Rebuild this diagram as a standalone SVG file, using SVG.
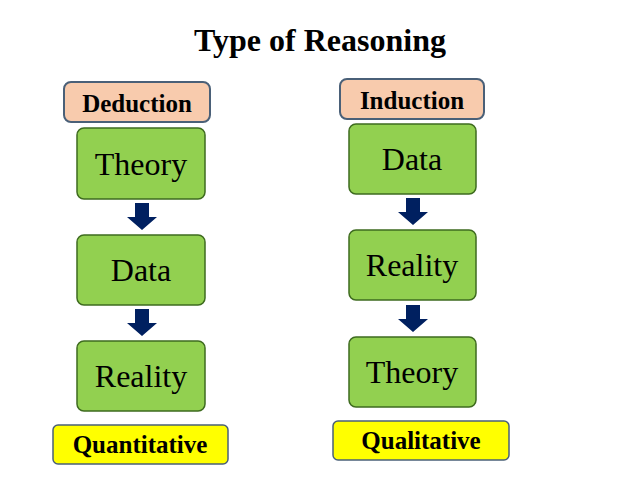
<svg xmlns="http://www.w3.org/2000/svg" width="638" height="478" viewBox="0 0 638 478">
<style>
.t{font-family:"Liberation Serif",serif;fill:#000;text-anchor:middle}
.g{fill:#92d050;stroke:#3e6b1f;stroke-width:1.5}
.o{fill:#f8cbad;stroke:#4a6078;stroke-width:2}
.y{fill:#ffff00;stroke:#4a6078;stroke-width:1.5}
.a{fill:#002060}
</style>
<rect width="638" height="478" fill="#fff"/>
<text class="t" x="320" y="51" font-size="32" font-weight="bold">Type of Reasoning</text>
<g id="deduction"><rect class="o" x="64" y="82" width="146" height="40" rx="7"/><text class="t" x="137" y="112" font-size="25" font-weight="bold">Deduction</text></g>
<g id="d_theory"><rect class="g" x="77" y="128" width="128" height="71" rx="7"/><text class="t" x="141" y="175" font-size="32">Theory</text></g>
<g id="d_data"><rect class="g" x="77" y="235" width="128" height="70" rx="7"/><text class="t" x="141" y="281" font-size="32">Data</text></g>
<g id="d_reality"><rect class="g" x="77" y="341" width="128" height="70" rx="7"/><text class="t" x="141" y="387" font-size="32">Reality</text></g>
<g id="quantitative"><rect class="y" x="53" y="425" width="175" height="39" rx="5"/><text class="t" x="140" y="453" font-size="25" font-weight="bold">Quantitative</text></g>
<g id="induction"><rect class="o" x="340" y="79" width="144" height="40" rx="7"/><text class="t" x="412" y="109" font-size="25" font-weight="bold">Induction</text></g>
<g id="i_data"><rect class="g" x="349" y="124" width="127" height="70" rx="7"/><text class="t" x="412" y="170" font-size="32">Data</text></g>
<g id="i_reality"><rect class="g" x="349" y="230" width="127" height="70" rx="7"/><text class="t" x="412" y="276" font-size="32">Reality</text></g>
<g id="i_theory"><rect class="g" x="349" y="337" width="127" height="70" rx="7"/><text class="t" x="412" y="383" font-size="32">Theory</text></g>
<g id="qualitative"><rect class="y" x="333" y="421" width="176" height="39" rx="5"/><text class="t" x="421" y="449" font-size="25" font-weight="bold">Qualitative</text></g>
<g id="connectors">
<path class="a" d="M135 203h14v14h8l-15 13l-15-13h8z"/>
<path class="a" d="M135 309h14v14h8l-15 13l-15-13h8z"/>
<path class="a" d="M406 198h14v14h8l-15 13l-15-13h8z"/>
<path class="a" d="M406 305h14v14h8l-15 13l-15-13h8z"/>
</g>
</svg>
